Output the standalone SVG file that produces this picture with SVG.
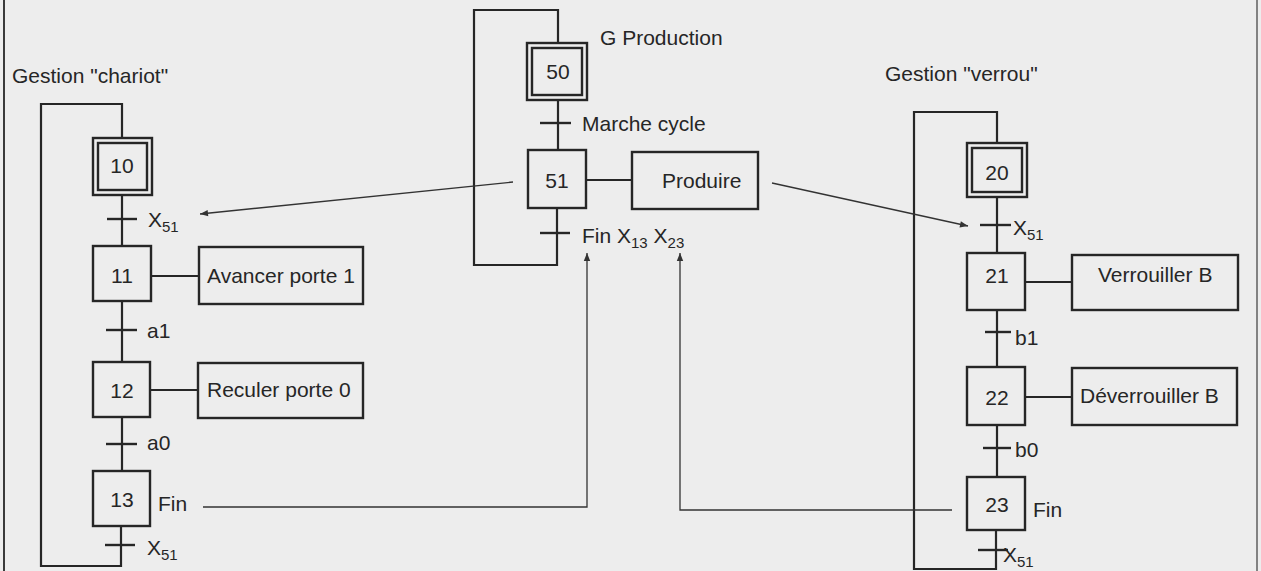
<svg xmlns="http://www.w3.org/2000/svg" width="1261" height="571" viewBox="0 0 1261 571">
<defs>
<style>
.bg{fill:#ededed}
.box{fill:none;stroke:#262626;stroke-width:2.4}
.ln{fill:none;stroke:#262626;stroke-width:2.2}
.bar{fill:none;stroke:#262626;stroke-width:2.4}
.arr{fill:none;stroke:#333;stroke-width:1.3}
.brd{fill:none;stroke:#3a3a3a;stroke-width:2}
text{font-family:"Liberation Sans",Arial,sans-serif;font-size:21px;fill:#262626}
.c{text-anchor:middle}
.sub{font-size:15px}
</style>
<marker id="ah" viewBox="0 0 10 10" refX="10" refY="5" markerWidth="10" markerHeight="8" markerUnits="userSpaceOnUse" orient="auto">
<path d="M0,1 L10,5 L0,9 Z" fill="#333"/>
</marker>
</defs>
<rect class="bg" x="0" y="0" width="1261" height="571"/>
<line class="brd" x1="4" y1="0" x2="4" y2="571"/>
<line class="brd" x1="1257" y1="0" x2="1257" y2="571" stroke-opacity="0.6"/>

<g id="titles">
<text x="12" y="83">Gestion "chariot"</text>
<text x="600" y="45">G Production</text>
<text x="885" y="81">Gestion "verrou"</text>
</g>

<!-- Chariot grafcet -->
<g id="step10"><rect class="box" x="93" y="138" width="59" height="57"/><rect class="box" x="98" y="143" width="49" height="47"/><text class="c" x="122" y="173">10</text></g>
<g id="step11"><rect class="box" x="93" y="246" width="58" height="55"/><text class="c" x="122" y="283">11</text></g>
<g id="step12"><rect class="box" x="93" y="362" width="57" height="55"/><text class="c" x="122" y="398">12</text></g>
<g id="step13"><rect class="box" x="93" y="471" width="57" height="55"/><text class="c" x="122" y="507">13</text><text x="158" y="511">Fin</text></g>
<g id="action11"><rect class="box" x="199" y="247" width="164" height="57"/><text x="207" y="283">Avancer porte 1</text></g>
<g id="action12"><rect class="box" x="198" y="363" width="165" height="55"/><text x="207" y="397">Reculer porte 0</text></g>
<g id="t10"><line class="bar" x1="107" y1="219" x2="137" y2="219"/><text x="148" y="227">X<tspan class="sub" dy="5">51</tspan></text></g>
<g id="t11"><line class="bar" x1="106" y1="330" x2="137" y2="330"/><text x="147" y="338">a1</text></g>
<g id="t12"><line class="bar" x1="106" y1="444" x2="137" y2="444"/><text x="147" y="450">a0</text></g>
<g id="t13"><line class="bar" x1="105" y1="545" x2="135" y2="545"/><text x="147" y="555">X<tspan class="sub" dy="5">51</tspan></text></g>

<!-- Production grafcet -->
<g id="step50"><rect class="box" x="527" y="43" width="60" height="57"/><rect class="box" x="532" y="48" width="50" height="47"/><text class="c" x="558" y="79">50</text></g>
<g id="step51"><rect class="box" x="528" y="150" width="58" height="58"/><text class="c" x="557" y="188">51</text></g>
<g id="action51"><rect class="box" x="632" y="152" width="126" height="57"/><text x="662" y="188">Produire</text></g>
<g id="t50"><line class="bar" x1="540" y1="123" x2="571" y2="123"/><text x="582" y="131">Marche cycle</text></g>
<g id="t51"><line class="bar" x1="540" y1="233" x2="570" y2="233"/><text x="582" y="243">Fin X<tspan class="sub" dy="5">13</tspan><tspan dy="-5"> X</tspan><tspan class="sub" dy="5">23</tspan></text></g>

<!-- Verrou grafcet -->
<g id="step20"><rect class="box" x="967" y="143" width="60" height="54"/><rect class="box" x="972" y="148" width="50" height="44"/><text class="c" x="997" y="180">20</text></g>
<g id="step21"><rect class="box" x="967" y="253" width="58" height="57"/><text class="c" x="997" y="283">21</text></g>
<g id="step22"><rect class="box" x="967" y="367" width="58" height="58"/><text class="c" x="997" y="405">22</text></g>
<g id="step23"><rect class="box" x="967" y="477" width="58" height="53"/><text class="c" x="997" y="512">23</text><text x="1033" y="517">Fin</text></g>
<g id="action21"><rect class="box" x="1072" y="255" width="166" height="55"/><text x="1098" y="282">Verrouiller B</text></g>
<g id="action22"><rect class="box" x="1072" y="368" width="165" height="57"/><text x="1080" y="403">Déverrouiller B</text></g>
<g id="t20"><line class="bar" x1="980" y1="225" x2="1011" y2="225"/><text x="1013" y="235">X<tspan class="sub" dy="5">51</tspan></text></g>
<g id="t21"><line class="bar" x1="985" y1="332" x2="1011" y2="332"/><text x="1015" y="345">b1</text></g>
<g id="t22"><line class="bar" x1="983" y1="448" x2="1011" y2="448"/><text x="1015" y="457">b0</text></g>
<g id="t23"><line class="bar" x1="978" y1="550" x2="1008" y2="550"/><text x="1003" y="562">X<tspan class="sub" dy="5">51</tspan></text></g>

<g id="connectors">
<!-- chariot links -->
<polyline class="ln" points="122,138 122,104 41,104 41,566 121,566 121,526"/>
<line class="ln" x1="122" y1="195" x2="122" y2="246"/>
<line class="ln" x1="122" y1="301" x2="122" y2="362"/>
<line class="ln" x1="122" y1="417" x2="122" y2="471"/>
<line class="ln" x1="151" y1="276" x2="199" y2="276"/>
<line class="ln" x1="150" y1="390" x2="198" y2="390"/>
<!-- production links -->
<polyline class="ln" points="558,43 558,10 474,10 474,265 557,265 557,208"/>
<line class="ln" x1="558" y1="100" x2="558" y2="150"/>
<line class="ln" x1="586" y1="180" x2="632" y2="180"/>
<!-- verrou links -->
<polyline class="ln" points="997,143 997,112 914,112 914,569 996,569 996,530"/>
<line class="ln" x1="997" y1="197" x2="997" y2="253"/>
<line class="ln" x1="997" y1="310" x2="997" y2="367"/>
<line class="ln" x1="997" y1="425" x2="997" y2="477"/>
<line class="ln" x1="1025" y1="282" x2="1072" y2="282"/>
<line class="ln" x1="1025" y1="397" x2="1072" y2="397"/>
<!-- information arrows -->
<line class="arr" x1="513" y1="182" x2="200" y2="214" marker-end="url(#ah)"/>
<line class="arr" x1="772" y1="183" x2="968" y2="226" marker-end="url(#ah)"/>
<polyline class="arr" points="203,507 587,507 587,253" marker-end="url(#ah)"/>
<polyline class="arr" points="952,510 680,510 680,253" marker-end="url(#ah)"/>
</g>
</svg>
